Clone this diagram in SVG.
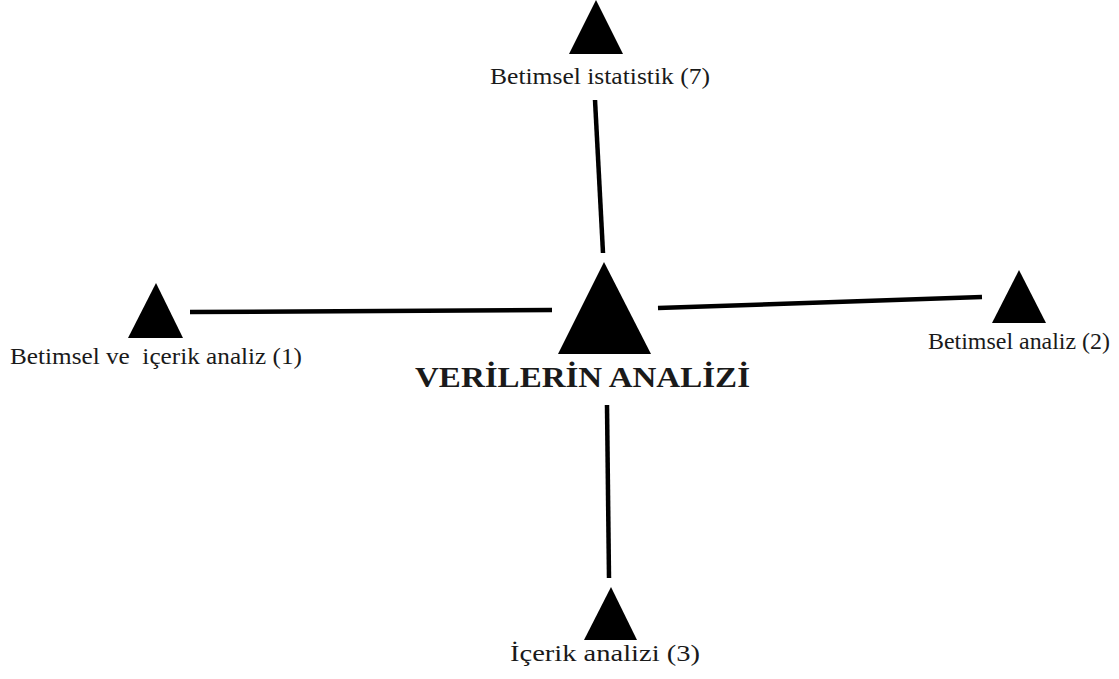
<svg xmlns="http://www.w3.org/2000/svg" width="1119" height="679" viewBox="0 0 1119 679">
<style>
.tri{fill:#000;}
.lbl{font-family:"Liberation Serif","Times New Roman",serif;font-size:24px;fill:#1a1a1a;white-space:pre;}
.main{font-family:"Liberation Serif","Times New Roman",serif;font-size:29px;font-weight:bold;fill:#1a1a1a;}
.con{stroke:#000;stroke-width:4.5;stroke-linecap:butt;fill:none;}
</style>
<rect width="1119" height="679" fill="#fff"/>
<g id="connectors">
<line class="con" x1="595" y1="100" x2="603" y2="253"/>
<line class="con" x1="190" y1="312" x2="552" y2="310"/>
<line class="con" x1="658" y1="308" x2="982" y2="297"/>
<line class="con" x1="607" y1="405" x2="609" y2="578"/>
</g>
<g id="center">
<polygon class="tri" points="604,262 558,354 651,354"/>
<text class="main" x="415" y="387" textLength="335" lengthAdjust="spacingAndGlyphs">VERİLERİN ANALİZİ</text>
</g>
<g id="top">
<polygon class="tri" points="596,0 569,54 623,54"/>
<text class="lbl" x="490" y="84" textLength="220" lengthAdjust="spacingAndGlyphs">Betimsel istatistik (7)</text>
</g>
<g id="left">
<polygon class="tri" points="156,283 128,338 183,338"/>
<text class="lbl" x="10" y="364" textLength="292" lengthAdjust="spacingAndGlyphs">Betimsel ve  içerik analiz (1)</text>
</g>
<g id="right">
<polygon class="tri" points="1019,270 992,323 1046,323"/>
<text class="lbl" x="928" y="349" textLength="182" lengthAdjust="spacingAndGlyphs">Betimsel analiz (2)</text>
</g>
<g id="bottom">
<polygon class="tri" points="611,587 584,640 637,640"/>
<text class="lbl" x="510" y="661" textLength="190" lengthAdjust="spacingAndGlyphs">İçerik analizi (3)</text>
</g>
</svg>
